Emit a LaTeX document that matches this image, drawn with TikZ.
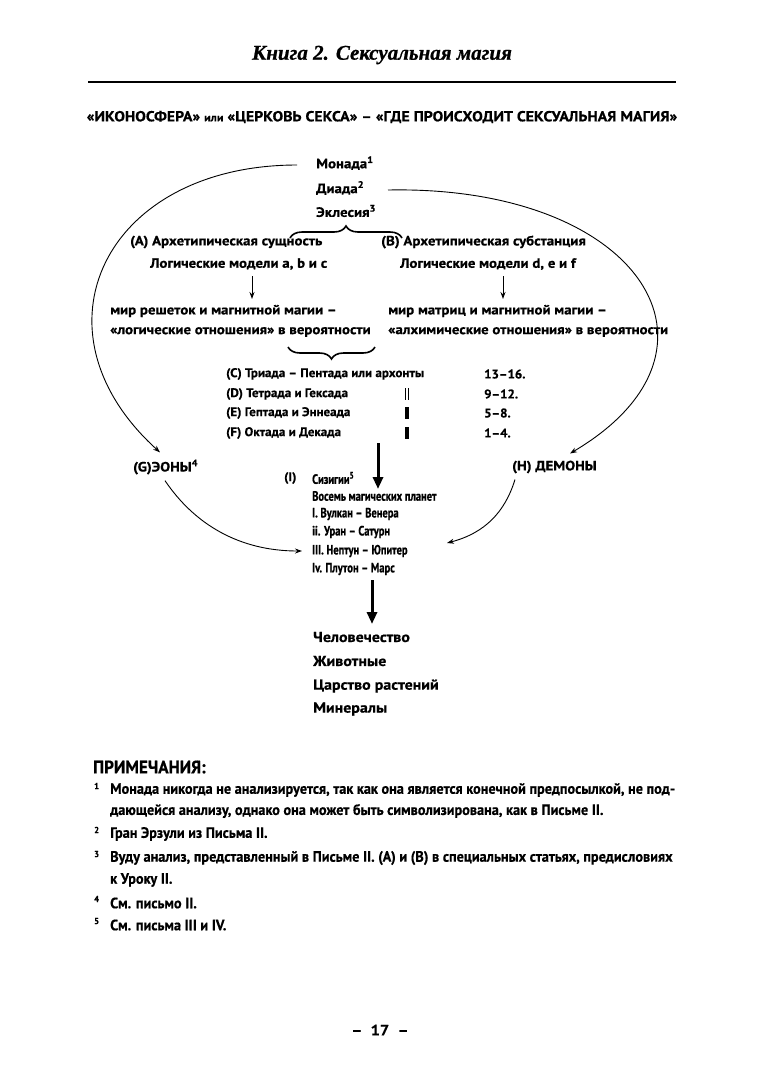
\documentclass[tikz,border=0pt]{standalone}
\usepackage{fontspec}
\setmainfont{PT Sans}
\newfontfamily\dfont[FakeStretch=1.1,FakeBold=0.6]{PT Sans}
\newfontfamily\tfont[FakeStretch=1.04,FakeBold=0.6]{PT Sans}
\newfontfamily\sfont[FakeStretch=0.78,FakeBold=0.7]{PT Sans}
\newfontfamily\nfont[FakeStretch=0.95,FakeBold=0.5]{PT Sans}
\newfontfamily\ttlfont[FakeStretch=1.09,FakeBold=0.6]{PT Sans}
\newfontfamily\headfont[FakeBold=0.8]{Liberation Serif}
\usetikzlibrary{arrows.meta,decorations.pathreplacing}
\tikzset{
  base/.style={anchor=west,inner sep=0pt},
  dtxt/.style={base,font=\dfont\bfseries\fontsize{13.5}{15}\selectfont},
  ltxt/.style={base,font=\dfont\bfseries\fontsize{14.5}{16}\selectfont},
  ttxt/.style={base,font=\tfont\bfseries\fontsize{12.5}{14}\selectfont},
  stxt/.style={base,font=\sfont\bfseries\fontsize{13.5}{14}\selectfont},
  ntxt/.style={base,font=\nfont\bfseries\fontsize{15}{17}\selectfont},
  nnum/.style={base,font=\nfont\bfseries\fontsize{9}{10}\selectfont},
  curve/.style={line width=0.9pt,-{Stealth[length=7pt,width=5pt]}},
  thin arrow/.style={line width=1pt,-{Stealth[length=7pt,width=5pt]}},
  thick arrow/.style={line width=3pt,-{Triangle[length=12pt,width=10pt]}},
  bracebar/.style={line width=1.6pt,decorate,decoration={brace,amplitude=12pt}}
}
\begin{document}
\begin{tikzpicture}[x=1pt,y=-1pt]
\useasboundingbox[fill=white] (0,0) rectangle (761,1080);

% header
\node[inner sep=0pt,font=\headfont\bfseries\itshape\fontsize{21}{23}\selectfont] (head) at (382,55) {Книга 2. Сексуальная магия};
\coordinate (r1) at (88,82); \coordinate (r2) at (676,82);
\draw[line width=2.5pt] (r1) -- (r2);

% title
\node[inner sep=0pt,font=\ttlfont\bfseries\fontsize{14.5}{16}\selectfont] (title) at (382,117)
  {«ИКОНОСФЕРА» {\fontsize{11}{12}\selectfont или} «ЦЕРКОВЬ СЕКСА» – «ГДЕ ПРОИСХОДИТ СЕКСУАЛЬНАЯ МАГИЯ»};

% top stack
\node[dtxt] (monada) at (316,163) {Монада\textsuperscript{1}};
\node[dtxt] (diada) at (316,188) {Диада\textsuperscript{2}};
\node[dtxt] (eklesia) at (316,211) {Эклесия\textsuperscript{3}};

\coordinate (b1l) at (290,238); \coordinate (b1r) at (402,238);
\draw[bracebar] (b1l) -- (b1r);

\node[dtxt] (arA) at (130,242) {(A) Архетипическая сущность};
\node[dtxt] (modA) at (150,264) {Логические модели a, b и c};
\node[dtxt] (arB) at (381,242) {(B) Архетипическая субстанция};
\node[dtxt] (modB) at (400,264) {Логические модели d, e и f};

\coordinate (aA1) at (252,276); \coordinate (aA2) at (252,299);
\coordinate (aB1) at (503,276); \coordinate (aB2) at (503,299);
\draw[thin arrow] (aA1) -- (aA2);
\draw[thin arrow] (aB1) -- (aB2);

\node[dtxt] (mirA1) at (110,311) {мир решеток и магнитной магии –};
\node[dtxt] (mirA2) at (110,332) {«логические отношения» в вероятности};
\node[dtxt] (mirB1) at (388,311) {мир матриц и магнитной магии –};
\node[dtxt] (mirB2) at (388,332) {«алхимические отношения» в вероятности};

\coordinate (b2l) at (288,347); \coordinate (b2r) at (375,347);
\draw[bracebar] (b2r) -- (b2l);

% table
\node[ttxt] (rC) at (226,374) {(C) Триада – Пентада или архонты};
\node[ttxt] (rD) at (226,394) {(D) Тетрада и Гексада};
\node[ttxt] (rE) at (226,413) {(E) Гептада и Эннеада};
\node[ttxt] (rF) at (226,433) {(F) Октада и Декада};
\node[ttxt] (nC) at (484,374) {13–16.};
\node[ttxt] (nD) at (484,394) {9–12.};
\node[ttxt] (nE) at (484,413) {5–8.};
\node[ttxt] (nF) at (484,433) {1–4.};
\fill (404.5,388) rectangle (405.8,400);
\fill (407.5,388) rectangle (408.8,400);
\fill (404.5,407) rectangle (409,419);
\fill (404.5,427) rectangle (409,439);

\coordinate (t1) at (378,443); \coordinate (t2) at (378,489);
\draw[thick arrow] (t1) -- (t2);

% side labels
\node[dtxt] (eony) at (133,467) {(G)ЭОНЫ\textsuperscript{4}};
\node[dtxt] (demony) at (512,467) {(H) ДЕМОНЫ};

% syzygies
\node[ttxt] (iI) at (284,478) {(I)};
\node[stxt] (s0) at (312,478) {Сизигии\textsuperscript{5}};
\node[stxt] (s1) at (312,496) {Восемь магических планет};
\node[stxt] (s2) at (312,514) {I. Вулкан – Венера};
\node[stxt] (s3) at (312,532) {ii. Уран – Сатурн};
\node[stxt] (s4) at (312,551) {III. Нептун – Юпитер};
\node[stxt] (s5) at (312,569) {Iv. Плутон – Марс};

\coordinate (t3) at (372,580); \coordinate (t4) at (372,624);
\draw[thick arrow] (t3) -- (t4);

\node[ltxt] (h1) at (313,637) {Человечество};
\node[ltxt] (h2) at (313,661) {Животные};
\node[ltxt] (h3) at (313,686) {Царство растений};
\node[ltxt] (h4) at (313,709) {Минералы};

% curves
\draw[curve] ([xshift=-19pt,yshift=-2pt]monada.west) .. controls (105,165) and (25,330) .. ([xshift=27pt,yshift=7pt]eony.north west);
\draw[curve] ([xshift=72pt,yshift=-2pt]diada.west) .. controls (640,185) and (745,350) .. ([xshift=58pt,yshift=7pt]demony.north west);
\draw[curve] ([xshift=32pt,yshift=-6pt]eony.south west) .. controls (195,525) and (240,551) .. ([xshift=-10pt]s4.west);
\draw[curve] ([xshift=3pt,yshift=-6pt]demony.south west) .. controls (505,512) and (485,533) .. ([xshift=135pt,yshift=8pt]s4.west);

% notes
\node[base,font=\nfont\bfseries\fontsize{18}{20}\selectfont] (prim) at (93,767) {ПРИМЕЧАНИЯ:};
\node[nnum] (f1) at (94,786) {1};
\node[ntxt] (n1a) at (110,790) {Монада никогда не анализируется, так как она является конечной предпосылкой, не под-};
\node[ntxt] (n1b) at (110,811) {дающейся анализу, однако она может быть символизирована, как в Письме II.};
\node[nnum] (f2) at (94,830) {2};
\node[ntxt] (n2) at (110,834) {Гран Эрзули из Письма II.};
\node[nnum] (f3) at (94,854) {3};
\node[ntxt] (n3a) at (110,858) {Вуду анализ, представленный в Письме II. (A) и (B) в специальных статьях, предисловиях};
\node[ntxt] (n3b) at (110,880) {к Уроку II.};
\node[nnum] (f4) at (94,899) {4};
\node[ntxt] (n4) at (110,903) {См. письмо II.};
\node[nnum] (f5) at (94,921) {5};
\node[ntxt] (n5) at (110,925) {См. письма III и IV.};

\node[inner sep=0pt,font=\dfont\bfseries\fontsize{15}{17}\selectfont] (page) at (380,1030) {–\ \ 17\ \ –};
\end{tikzpicture}
\end{document}
